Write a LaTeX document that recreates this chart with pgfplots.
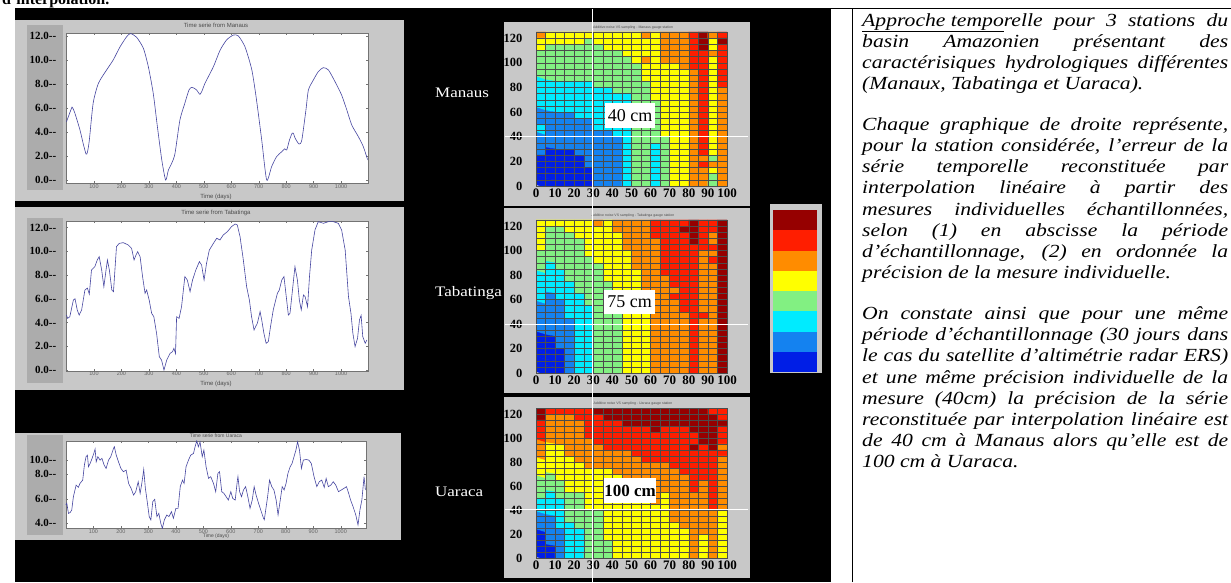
\documentclass[border=0pt]{standalone}
\usepackage{fontspec}
\setmainfont{Liberation Serif}
\newfontfamily\lsans{Liberation Sans}
\newfontfamily\wideserif[FakeStretch=1.17]{Liberation Serif}
\usepackage{pgfplots}
\usepackage{pgfplotstable}
\pgfplotsset{compat=1.18}
\definecolor{panelgray}{RGB}{200,200,200}
\definecolor{labgray}{RGB}{172,172,172}
\definecolor{tsline}{RGB}{70,70,160}
\definecolor{k0}{RGB}{0,30,230}
\definecolor{k1}{RGB}{20,130,240}
\definecolor{k2}{RGB}{0,235,255}
\definecolor{k3}{RGB}{130,240,130}
\definecolor{k4}{RGB}{255,255,0}
\definecolor{k5}{RGB}{255,140,0}
\definecolor{k6}{RGB}{255,30,0}
\definecolor{k7}{RGB}{150,0,0}
\pgfplotsset{colormap={heat8}{rgb255=(0,30,230) rgb255=(20,130,240) rgb255=(0,235,255) rgb255=(130,240,130) rgb255=(255,255,0) rgb255=(255,140,0) rgb255=(255,30,0) rgb255=(150,0,0)}}

% heatmap tables: rows from top (120-125) to bottom (0-5), 20 columns (0-5 ... 95-100)
\pgfplotstableread[row sep=\\]{c\\
5\\4\\4\\4\\4\\4\\4\\4\\4\\4\\4\\5\\4\\5\\5\\5\\6\\7\\5\\6\\
4\\4\\4\\4\\4\\3\\4\\4\\4\\4\\4\\4\\4\\5\\5\\5\\6\\7\\4\\7\\
4\\3\\3\\3\\3\\3\\3\\4\\4\\4\\4\\4\\4\\5\\5\\5\\6\\7\\4\\6\\
3\\3\\3\\3\\3\\3\\3\\3\\3\\4\\4\\4\\4\\5\\5\\5\\6\\6\\5\\6\\
3\\3\\3\\3\\3\\3\\3\\3\\3\\3\\4\\5\\4\\5\\5\\5\\6\\6\\4\\6\\
3\\3\\3\\3\\3\\3\\3\\3\\3\\3\\3\\4\\4\\4\\4\\5\\6\\6\\4\\6\\
3\\3\\3\\3\\3\\3\\3\\3\\3\\3\\3\\4\\4\\4\\4\\4\\5\\6\\4\\6\\
3\\3\\3\\3\\3\\3\\3\\3\\3\\3\\3\\4\\4\\4\\4\\4\\5\\6\\4\\6\\
2\\2\\2\\2\\2\\2\\3\\3\\3\\3\\3\\3\\4\\4\\4\\4\\5\\6\\4\\6\\
2\\2\\2\\2\\2\\2\\2\\2\\3\\3\\3\\3\\4\\4\\4\\4\\5\\6\\4\\5\\
2\\2\\2\\2\\2\\2\\2\\2\\2\\2\\3\\3\\4\\4\\4\\4\\5\\6\\4\\5\\
2\\2\\2\\2\\2\\2\\2\\2\\2\\2\\3\\3\\3\\4\\4\\4\\5\\6\\4\\5\\
2\\2\\2\\2\\2\\2\\2\\2\\2\\2\\3\\3\\3\\4\\4\\4\\5\\6\\4\\5\\
1\\1\\1\\1\\2\\2\\2\\2\\2\\2\\3\\3\\3\\4\\4\\4\\5\\6\\4\\5\\
1\\1\\1\\1\\1\\1\\2\\2\\2\\2\\3\\3\\3\\4\\4\\4\\5\\6\\4\\5\\
2\\1\\1\\1\\1\\1\\2\\2\\2\\2\\3\\3\\3\\4\\4\\4\\5\\6\\4\\5\\
2\\1\\1\\1\\1\\1\\1\\1\\2\\2\\3\\3\\3\\4\\4\\4\\5\\6\\4\\5\\
1\\1\\1\\1\\1\\1\\1\\1\\1\\2\\3\\3\\3\\3\\4\\4\\5\\6\\4\\5\\
1\\1\\1\\1\\1\\1\\1\\1\\1\\2\\3\\3\\2\\3\\4\\4\\5\\6\\4\\5\\
1\\0\\0\\0\\1\\1\\1\\1\\1\\2\\3\\3\\2\\3\\4\\4\\5\\6\\4\\5\\
0\\0\\0\\0\\0\\1\\1\\1\\1\\2\\3\\3\\2\\3\\4\\4\\5\\5\\3\\5\\
0\\0\\0\\0\\0\\1\\1\\1\\1\\2\\3\\3\\2\\3\\4\\4\\5\\6\\5\\5\\
0\\0\\0\\0\\0\\0\\1\\1\\1\\2\\3\\3\\2\\3\\4\\4\\5\\5\\4\\5\\
0\\0\\0\\0\\0\\0\\1\\1\\1\\2\\3\\3\\2\\3\\4\\4\\5\\5\\3\\5\\
0\\0\\0\\0\\0\\0\\1\\1\\1\\2\\3\\3\\2\\3\\4\\4\\5\\5\\3\\5\\
}\manaus

\pgfplotstableread[row sep=\\]{c\\
4\\4\\4\\4\\4\\4\\5\\4\\5\\5\\5\\5\\6\\6\\6\\6\\7\\6\\6\\7\\
4\\3\\3\\4\\4\\4\\4\\4\\5\\5\\5\\5\\6\\6\\6\\7\\7\\6\\6\\7\\
4\\3\\3\\3\\4\\4\\4\\4\\4\\5\\5\\5\\6\\6\\6\\6\\7\\6\\5\\7\\
4\\3\\3\\3\\3\\4\\4\\4\\4\\5\\5\\5\\5\\6\\6\\6\\7\\6\\5\\7\\
4\\3\\3\\3\\3\\4\\4\\4\\4\\5\\5\\5\\5\\6\\6\\6\\6\\6\\6\\7\\
3\\3\\3\\3\\3\\4\\4\\4\\4\\4\\5\\5\\5\\6\\6\\6\\6\\5\\5\\7\\
3\\3\\3\\3\\3\\3\\4\\4\\4\\4\\5\\5\\5\\6\\6\\6\\6\\5\\6\\7\\
3\\2\\3\\3\\3\\3\\3\\4\\4\\4\\5\\5\\5\\6\\6\\6\\6\\5\\5\\7\\
3\\2\\2\\3\\3\\3\\3\\4\\4\\4\\4\\5\\5\\6\\6\\6\\6\\5\\5\\7\\
2\\2\\2\\3\\3\\3\\3\\4\\4\\4\\4\\5\\5\\5\\6\\6\\6\\5\\5\\7\\
2\\2\\2\\2\\3\\3\\3\\3\\4\\4\\4\\5\\5\\5\\6\\6\\6\\5\\5\\7\\
2\\2\\2\\2\\3\\3\\3\\3\\4\\4\\4\\5\\5\\5\\5\\6\\6\\5\\5\\7\\
2\\1\\2\\2\\2\\3\\3\\3\\3\\4\\4\\5\\5\\5\\6\\6\\6\\5\\5\\7\\
2\\1\\1\\2\\2\\3\\3\\3\\3\\4\\4\\4\\5\\5\\5\\6\\6\\5\\5\\7\\
1\\1\\1\\2\\2\\2\\3\\3\\3\\4\\4\\4\\5\\5\\5\\6\\6\\5\\5\\7\\
1\\1\\1\\2\\2\\2\\3\\3\\3\\4\\4\\4\\5\\5\\5\\5\\6\\6\\5\\7\\
1\\1\\1\\1\\2\\2\\3\\3\\3\\4\\4\\4\\5\\5\\5\\5\\6\\5\\5\\7\\
1\\1\\1\\1\\2\\2\\3\\3\\3\\4\\4\\4\\5\\5\\5\\5\\6\\5\\5\\7\\
1\\1\\1\\1\\2\\2\\3\\3\\3\\4\\4\\4\\5\\5\\5\\5\\6\\5\\5\\7\\
0\\0\\1\\1\\2\\2\\3\\3\\3\\4\\4\\4\\5\\5\\5\\5\\6\\5\\5\\7\\
0\\0\\1\\1\\2\\2\\3\\3\\3\\4\\4\\4\\5\\5\\5\\5\\6\\5\\5\\7\\
0\\0\\0\\1\\2\\2\\3\\3\\3\\4\\4\\4\\5\\5\\5\\5\\6\\5\\5\\7\\
0\\0\\0\\1\\2\\2\\3\\3\\3\\4\\4\\4\\5\\5\\5\\5\\6\\5\\5\\7\\
0\\0\\0\\1\\2\\2\\3\\3\\3\\4\\4\\4\\5\\5\\5\\5\\6\\5\\5\\7\\
0\\0\\0\\1\\2\\2\\3\\3\\3\\4\\4\\4\\5\\5\\5\\5\\6\\5\\5\\7\\
}\tabatinga

\pgfplotstableread[row sep=\\]{c\\
7\\6\\6\\6\\6\\6\\7\\7\\7\\7\\7\\7\\7\\7\\7\\7\\7\\7\\6\\6\\
7\\5\\5\\5\\6\\6\\6\\7\\7\\7\\7\\7\\7\\7\\7\\7\\7\\7\\7\\6\\
6\\5\\5\\5\\5\\6\\6\\6\\6\\7\\7\\7\\7\\7\\7\\7\\7\\7\\7\\7\\
6\\5\\5\\5\\5\\6\\6\\6\\6\\6\\6\\6\\7\\6\\6\\6\\7\\7\\7\\6\\
6\\5\\5\\5\\5\\6\\6\\6\\6\\6\\6\\6\\6\\6\\6\\6\\6\\7\\7\\6\\
6\\5\\5\\5\\5\\5\\6\\6\\6\\6\\6\\6\\6\\6\\6\\6\\6\\7\\7\\6\\
5\\4\\4\\5\\5\\5\\5\\6\\6\\6\\6\\6\\6\\6\\6\\6\\7\\6\\7\\5\\
5\\4\\4\\5\\5\\5\\5\\5\\5\\5\\6\\6\\6\\6\\6\\6\\6\\6\\6\\6\\
5\\4\\4\\4\\5\\5\\5\\5\\5\\5\\5\\6\\6\\6\\6\\6\\6\\6\\6\\5\\
4\\4\\4\\4\\4\\5\\5\\5\\5\\5\\5\\5\\5\\5\\6\\6\\6\\6\\6\\5\\
4\\4\\4\\4\\4\\4\\4\\4\\5\\5\\5\\5\\5\\5\\5\\6\\6\\6\\6\\5\\
4\\3\\4\\4\\4\\4\\4\\4\\4\\5\\5\\5\\5\\5\\5\\5\\6\\6\\6\\5\\
3\\3\\3\\4\\4\\4\\4\\4\\4\\5\\5\\5\\5\\5\\5\\5\\6\\5\\6\\5\\
3\\3\\3\\4\\4\\4\\4\\4\\4\\4\\5\\5\\5\\5\\5\\5\\6\\5\\6\\5\\
3\\2\\3\\3\\3\\4\\4\\4\\4\\4\\4\\5\\5\\4\\5\\5\\5\\5\\6\\5\\
2\\2\\2\\3\\3\\4\\4\\4\\4\\4\\4\\4\\5\\4\\5\\5\\5\\5\\6\\5\\
2\\2\\2\\3\\3\\4\\4\\4\\4\\4\\4\\4\\4\\4\\5\\5\\5\\5\\6\\5\\
2\\2\\2\\3\\3\\3\\3\\4\\4\\4\\4\\4\\4\\4\\5\\5\\5\\5\\5\\4\\
1\\1\\2\\3\\3\\3\\3\\4\\4\\4\\4\\4\\4\\4\\5\\5\\5\\5\\5\\4\\
1\\1\\2\\2\\3\\3\\3\\4\\4\\4\\4\\4\\4\\4\\4\\5\\5\\5\\5\\4\\
1\\1\\1\\2\\2\\3\\3\\4\\4\\4\\4\\4\\4\\4\\4\\4\\5\\5\\5\\4\\
0\\1\\1\\2\\2\\3\\3\\4\\4\\4\\4\\4\\4\\4\\4\\4\\5\\4\\5\\4\\
0\\1\\1\\2\\2\\3\\3\\3\\4\\4\\4\\4\\4\\4\\4\\4\\5\\4\\5\\4\\
0\\0\\1\\2\\2\\3\\3\\3\\4\\4\\4\\4\\4\\4\\4\\4\\5\\4\\5\\4\\
0\\0\\1\\2\\2\\3\\3\\3\\4\\4\\4\\4\\4\\4\\4\\4\\5\\4\\5\\4\\
}\uaraca

\pgfplotsset{
  tsaxis/.style={scale only axis, width=302pt, height=150pt,
    axis background/.style={fill=white},
    axis line style={black!55,line width=0.4pt},
    tick style={black!55,line width=0.4pt}, tick align=inside, major tick length=2pt,
    xtick={100,200,...,1000}, /pgf/number format/1000 sep={},
    /pgf/number format/assume math mode=true,
    xticklabel style={font=\lsans\fontsize{5.5}{5.5}\selectfont, text=black!60, inner sep=1pt},
    yticklabel style={font=\fontsize{11}{11}\selectfont\bfseries, xshift=-6pt},
  },
  hmaxis/.style={scale only axis, width=191pt, xmin=0, xmax=100, ymin=0, ymax=125,
    axis on top, colormap name=heat8, colormap access=direct,
    xtick={0,10,...,100}, ytick={0,20,...,120},
    minor xtick={0,5,...,100}, minor ytick={0,5,...,125},
    grid=both, major grid style={black!70,line width=0.45pt},
    minor grid style={black!70,line width=0.45pt},
    major tick length=0pt, minor tick length=0pt,
    axis line style={black!70,line width=0.45pt},
    /pgf/number format/assume math mode=true,
    xticklabel style={font=\fontsize{13}{13}\selectfont\bfseries, inner sep=1pt, yshift=-2pt},
    yticklabel style={font=\fontsize{12.5}{12.5}\selectfont\bfseries, xshift=-10pt},
  },
  hmplot/.style={matrix plot*, mesh/cols=20, point meta=explicit},
}

\begin{document}
\begin{tikzpicture}[x=1pt,y=1pt]
\useasboundingbox (0,0) rectangle (1231,582);
\clip (0,0) rectangle (1231,582);
\fill[white] (0,0) rectangle (1231,582);
\node[anchor=base west, inner sep=0pt, font=\fontsize{16}{16}\selectfont\bfseries] at (2,577) {d’interpolation.};
% black panel
\fill[black] (15,0) rectangle (831,573);
% time series panels
\fill[panelgray] (15,381) rectangle (404,562);
\fill[panelgray] (15,192) rectangle (404,375);
\fill[panelgray] (15,42) rectangle (401,149);
\fill[labgray] (27,392) rectangle (63,557);
\fill[labgray] (27,199) rectangle (63,364);
\fill[labgray] (27,47) rectangle (63,147);
% heatmap panels
\fill[panelgray] (504,376) rectangle (750,560);
\fill[panelgray] (504,189) rectangle (750,374);
\fill[panelgray] (504,4) rectangle (750,185);

% ---------- time series ----------
\begin{axis}[tsaxis, at={(65.7pt,399pt)}, anchor=south west,
  xmin=-3, xmax=1097, ymin=-0.25, ymax=12.25,
  ytick={0,2,...,12}, yticklabels={0.0-{}-,2.0-{}-,4.0-{}-,6.0-{}-,8.0-{}-,10.0-{}-,12.0-{}-}]
\addplot[tsline, line width=0.6pt, smooth, tension=0.4] table {
0 4.86
18 5.97
21 6.06
30 5.6
49 4.17
60 3.1
71 2.17
76 2.3
83 3.3
97 6.4
116 8.05
146 9.17
170 10.0
195 11.1
219 11.94
233 12.2
255 11.9
280 10.97
298 9.44
316 7.2
331 4.44
347 1.67
361 0.0
371 0.83
383 1.39
395 2.2
413 5.0
431 6.4
446 7.5
456 7.72
465 7.65
474 7.5
486 7.14
495 7.5
504 8.05
535 9.44
559 10.8
583 11.67
608 12.08
626 12.0
650 11.1
675 9.17
692 6.67
711 3.33
729 0.0
747 1.11
765 1.94
784 2.36
795 2.6
802 2.5
812 3.33
822 3.9
827 3.85
833 3.47
847 3.0
857 3.33
872 5.83
881 7.5
899 8.33
917 9.03
935 9.36
954 9.17
978 8.19
1002 7.08
1021 5.83
1039 4.58
1063 3.61
1081 2.78
1097 1.67
};
\end{axis}

\begin{axis}[tsaxis, at={(65.7pt,211.3pt)}, anchor=south west,
  xmin=-3, xmax=1097, ymin=-0.06, ymax=12.58,
  ytick={0,2,...,12}, yticklabels={0.0-{}-,2.0-{}-,4.0-{}-,6.0-{}-,8.0-{}-,10.0-{}-,12.0-{}-}]
\addplot[tsline, line width=0.6pt] table {
0 4.63
4 4.35
12 4.49
25 5.9
31 6.0
39 5.06
46 4.63
55 5.06
67 6.74
76 6.9
83 6.4
91 8.43
103 8.7
112 9.27
119 9.55
128 8.43
136 7.02
144 8.43
149 9.27
156 8.43
165 6.74
171 6.6
182 10.4
192 10.67
207 10.73
225 10.53
237 10.25
246 9.27
253 9.69
259 9.97
268 9.55
277 7.87
286 6.46
292 6.74
301 5.9
310 4.78
318 4.49
328 3.09
338 1.12
346 0.84
355 0.0
365 0.84
377 1.4
386 1.54
391 1.83
397 1.4
401 4.49
410 4.35
419 5.34
431 7.87
440 7.58
450 6.6
459 7.58
471 8.43
484 9.13
492 8.85
501 7.58
510 8.99
520 10.1
535 10.67
547 11.1
559 10.96
571 11.38
586 11.66
601 12.08
614 12.3
622 12.22
632 11.24
644 9.27
656 7.02
666 5.9
674 4.49
683 3.37
690 3.71
695 3.93
705 4.92
711 4.21
719 3.09
727 2.25
735 2.39
743 3.65
753 5.06
768 6.46
775 6.74
784 7.58
792 7.87
799 6.46
808 4.63
814 4.78
823 6.74
832 8.71
841 7.58
848 5.9
855 5.06
863 6.32
869 6.18
878 5.34
885 7.87
893 10.1
905 11.8
917 12.5
936 12.36
954 12.5
972 12.5
990 12.36
1002 11.8
1015 10.1
1027 6.18
1036 4.78
1043 3.09
1051 1.97
1060 2.67
1067 4.21
1073 4.6
1079 2.81
1088 2.25
1094 2.53
};
\end{axis}

\begin{axis}[tsaxis, at={(65.7pt,53.7pt)}, anchor=south west, width=300pt, height=87.6pt,
  xmin=-1, xmax=1091, ymin=3.58, ymax=10.9,
  ytick={4,6,8.1,9.3}, yticklabels={4.0-{}-,6.0-{}-,8.0-{}-,10.0-{}-}]
\addplot[tsline, line width=0.6pt] table {
0 5.53
3 5.67
9 4.83
15 4.89
21 5.11
27 6.22
37 7.19
45 7.0
51 7.33
61 7.61
67 8.86
73 9.56
78 9.69
82 8.72
88 9.0
95 9.42
102 9.89
106 10.2
110 9.14
116 9.56
124 9.28
131 9.42
139 8.86
146 8.58
155 9.28
163 9.56
173 10.25
176 10.4
183 9.69
191 9.14
200 8.58
209 8.31
219 8.44
228 7.33
237 6.92
246 6.36
254 6.64
263 7.47
270 6.5
276 7.33
282 8.31
283 8.5
289 6.92
295 5.94
303 4.56
309 4.28
316 5.81
323 6.0
331 4.56
338 4.83
345 4.0
351 3.58
358 4.28
367 4.69
375 4.56
384 4.97
391 4.42
400 5.25
408 5.25
416 7.06
424 7.61
430 7.33
437 8.72
446 9.28
454 9.69
464 9.83
470 10.39
476 10.89
482 10.39
488 10.8
496 9.56
502 10.11
510 8.72
519 7.75
527 7.89
537 7.33
545 6.64
553 8.17
559 8.31
567 6.64
575 6.5
583 6.22
591 5.94
600 6.64
607 6.08
616 5.94
624 7.61
626 7.9
632 6.64
639 6.22
646 6.78
654 7.06
662 6.22
670 5.25
678 5.94
685 7.06
692 6.36
701 5.67
709 5.11
719 4.42
722 4.3
727 5.11
734 6.22
741 7.61
749 7.06
757 6.78
765 5.94
772 4.7
780 5.94
787 7.06
794 6.78
801 7.33
808 8.17
816 8.72
823 9.0
830 9.56
837 10.11
843 10.81
850 10.11
857 8.58
864 9.28
874 9.33
884 9.28
893 9.0
903 7.89
913 7.06
922 7.47
931 7.61
940 7.0
947 7.75
955 7.06
964 7.19
973 7.47
982 7.19
992 6.64
1002 6.78
1012 6.92
1021 7.06
1029 6.5
1036 5.94
1045 5.39
1055 4.69
1063 3.86
1070 5.11
1077 5.94
1085 7.89
1090 6.78
};
\end{axis}

% time series titles and labels
\node[font=\lsans\fontsize{6}{6}\selectfont, text=black!70] at (216,557) {Time serie from Manaus};
\node[font=\lsans\fontsize{6}{6}\selectfont, text=black!70] at (216,385) {Time (days)};
\node[font=\lsans\fontsize{6}{6}\selectfont, text=black!70] at (216,369) {Time serie from Tabatinga};
\node[font=\lsans\fontsize{6}{6}\selectfont, text=black!70] at (216,198) {Time (days)};
\node[font=\lsans\fontsize{5}{5}\selectfont, text=black!70] at (216,146) {Time serie from Uaraca};
\node[font=\lsans\fontsize{5}{5}\selectfont, text=black!70] at (216,46) {Time (days)};

% ---------- heatmaps ----------
\begin{axis}[hmaxis, at={(536pt,396pt)}, anchor=south west, height=154pt]
\addplot[hmplot] table[x index=0, y index=0, x expr={mod(\coordindex,20)*5+2.5}, y expr={122.5-5*floor(\coordindex/20)}, meta=c] {\manaus};
\end{axis}
\begin{axis}[hmaxis, at={(536pt,209pt)}, anchor=south west, height=153pt]
\addplot[hmplot] table[x index=0, y index=0, x expr={mod(\coordindex,20)*5+2.5}, y expr={122.5-5*floor(\coordindex/20)}, meta=c] {\tabatinga};
\end{axis}
\begin{axis}[hmaxis, at={(536pt,24pt)}, anchor=south west, height=150pt]
\addplot[hmplot] table[x index=0, y index=0, x expr={mod(\coordindex,20)*5+2.5}, y expr={122.5-5*floor(\coordindex/20)}, meta=c] {\uaraca};
\end{axis}

\node[font=\lsans\fontsize{3.5}{3.5}\selectfont, text=black!70] at (633,554) {Additive noise VS sampling - Manaus gauge station};
\node[font=\lsans\fontsize{3.5}{3.5}\selectfont, text=black!70] at (633,366) {Additive noise VS sampling - Tabatinga gauge station};
\node[font=\lsans\fontsize{3.5}{3.5}\selectfont, text=black!70] at (633,178) {Additive noise VS sampling - Uaraca gauge station};

% white guide lines
\draw[white, line width=1pt] (592,0) -- (592,573);
\draw[white, line width=1pt] (505,445) -- (748,445);
\draw[white, line width=1pt] (505,258) -- (748,258);
\draw[white, line width=1pt] (505,73) -- (748,73);

% value boxes
\node[fill=white, inner sep=0pt, minimum width=50pt, minimum height=25pt, font=\fontsize{18}{18}\selectfont] at (630,466.5) {40 cm};
\node[fill=white, inner sep=0pt, minimum width=51pt, minimum height=24pt, font=\fontsize{18}{18}\selectfont] at (629.5,280) {75 cm};
\node[fill=white, inner sep=0pt, minimum width=52pt, minimum height=25pt, font=\fontsize{17}{17}\selectfont\bfseries] at (630,91.5) {100 cm};

% station names
\node[anchor=west, inner sep=0pt, text=white, font=\wideserif\fontsize{14.5}{14.5}\selectfont] at (435,489) {Manaus};
\node[anchor=west, inner sep=0pt, text=white, font=\wideserif\fontsize{14.5}{14.5}\selectfont] at (435,289) {Tabatinga};
\node[anchor=west, inner sep=0pt, text=white, font=\wideserif\fontsize{14.5}{14.5}\selectfont] at (435,90) {Uaraca};

% colour key
\fill[panelgray] (770,209) rectangle (822,378);
\foreach \c [count=\i from 0] in {k0,k1,k2,k3,k4,k5,k6,k7}
  \fill[\c] (773,210+20.25*\i) rectangle (817,210+20.25*\i+20.25);

% frame
\draw[black, line width=1.5pt] (852.5,0) -- (852.5,574);
\draw[black, line width=1.2pt] (15,573.5) -- (1231,573.5);

% right text
\node[anchor=north west, inner sep=0pt, text width=366pt, align=justify,
  font=\wideserif\fontsize{18.5}{21.2}\selectfont\itshape] at (862,569) {%
\underline{Approche tempo}relle pour 3 stations du\linebreak
basin Amazonien présentant des\linebreak
caractérisiques hydrologiques différentes\linebreak
(Manaux, Tabatinga et Uaraca).\par\vspace{19.5pt}
Chaque graphique de droite représente,\linebreak
pour la station considérée, l’erreur de la\linebreak
série temporelle reconstituée par\linebreak
interpolation linéaire à partir des\linebreak
mesures individuelles échantillonnées,\linebreak
selon (1) en abscisse la période\linebreak
d’échantillonnage, (2) en ordonnée la\linebreak
précision de la mesure individuelle.\par\vspace{19.5pt}
On constate ainsi que pour une même\linebreak
période d’échantillonnage (30 jours dans\linebreak
le cas du satellite d’altimétrie radar ERS)\linebreak
et une même précision individuelle de la\linebreak
mesure (40cm) la précision de la série\linebreak
reconstituée par interpolation linéaire est\linebreak
de 40 cm à Manaus alors qu’elle est de\linebreak
100 cm à Uaraca.};
\end{tikzpicture}
\end{document}
